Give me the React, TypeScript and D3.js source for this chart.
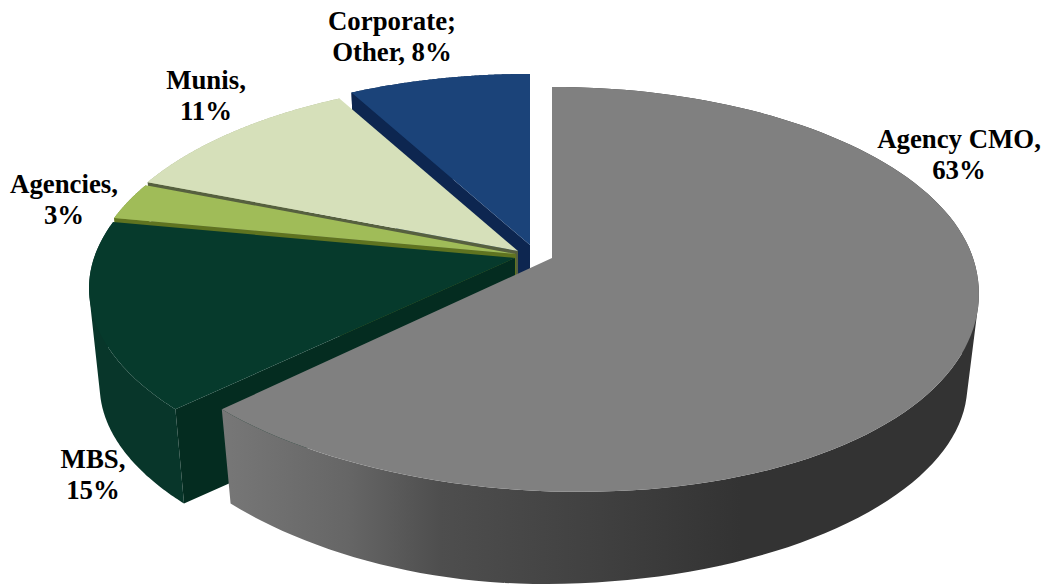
import React from "react";
import * as d3 from "d3";

const WIDTH = 1044;
const HEIGHT = 586;

// Portfolio shares, clockwise from twelve o'clock.
const categories = ["Agency CMO", "MBS", "Agencies", "Munis", "Corporate; Other"];
const shares = [63, 15, 3, 11, 8];

// Colours per slice: top surface, rim, cut face.
const topColors = ["#808080", "#063a2c", "#a0bc58", "#d6e0ba", "#1b4379"];
const rimColors = ["url(#rimShade)", "#08362a", "#7d9440", "#a9b48c", "#12305a"];
const cutColors = ["#555555", "#042c20", "#5f7320", "#56603f", "#0d2650"];

// Centre of each slice on screen, which carries its explosion.
const centerX = [552, 515, 516, 518, 530];
const centerY = [258, 258, 254, 251, 245];
// Sideways drift of the near edge of each slice, on the top face and on the lower rim.
const nearLean = [28, 8, 0, 0, 0];
const rimNearLean = [-8, 8, 0, 0, 0];
const rimLeftLean = [50, 0, 0, 0, 0];

// Label text lines with anchor points.
const labelLines = [
  ["Agency CMO,", "63%"],
  ["MBS,", "15%"],
  ["Agencies,", "3%"],
  ["Munis,", "11%"],
  ["Corporate;", "Other, 8%"],
];
const labelX = [959, 93, 64, 206, 392];
const labelY = [148, 468, 193, 89, 30];
const LINE_GAP = 31;

// Camera: perspective strength, disc half-axes, and extrusion of the lower rim.
const PERSPECTIVE = 0.155;
const AXIS_X = 421;
const AXIS_Y = 197.6;
const BOTTOM_SCALE = 0.975;
const DROP = 98;

type Pt = [number, number];

const discPoint = (i: number, angle: number, r: number): Pt => {
  const X = r * Math.sin(angle);
  const Z = r * Math.cos(angle);
  const w = 1 + PERSPECTIVE * Z;
  return [centerX[i] + (AXIS_X * X) / w, centerY[i] - (AXIS_Y * Z) / w];
};

const topPoint = (i: number, angle: number, r = 1): Pt => {
  const [x, y] = discPoint(i, angle, r);
  const Z = r * Math.cos(angle);
  return [x + (Z < 0 ? nearLean[i] * Z * Z : 0), y];
};

const lowerPoint = (i: number, angle: number, r = 1): Pt => {
  const [x, y] = discPoint(i, angle, r);
  const Z = r * Math.cos(angle);
  const side = Math.max(-r * Math.sin(angle), 0);
  const lean = Z < 0 ? Z * Z * (rimNearLean[i] + rimLeftLean[i] * side) : 0;
  return [
    centerX[i] + (x - centerX[i]) * BOTTOM_SCALE + lean,
    centerY[i] + (y - centerY[i]) * BOTTOM_SCALE + DROP,
  ];
};

const line = d3.line<Pt>().x((d) => d[0]).y((d) => d[1]);
const pie = d3.pie<number>().sort(null).value((d) => d);

// Quads share one winding so overlaps at the fold of the rim stay filled.
const quadPath = (quad: Pt[]) =>
  `${line(d3.polygonArea(quad) < 0 ? quad.slice().reverse() : quad)}Z`;

export default function App() {
  const arcs = pie(shares);
  // Far slices first so nearer ones overlap them.
  const order = d3.range(arcs.length).reverse();

  return (
    <svg
      width={WIDTH}
      height={HEIGHT}
      viewBox={`0 0 ${WIDTH} ${HEIGHT}`}
      style={{ position: "absolute", left: 0, top: 0, background: "#fff" }}
    >
      <defs>
        <linearGradient id="rimShade" gradientUnits="userSpaceOnUse" x1={224} x2={740} y1={0} y2={0}>
          <stop offset="0" stopColor="#777777" />
          <stop offset="0.24" stopColor="#666666" />
          <stop offset="0.42" stopColor="#4e4e4e" />
          <stop offset="0.73" stopColor="#404040" />
          <stop offset="1" stopColor="#333333" />
        </linearGradient>
      </defs>

      {order.map((i) => {
        const { startAngle, endAngle } = arcs[i];
        const steps = d3.range(121).map((k) => startAngle + ((endAngle - startAngle) * k) / 120);
        const upper = steps.map((a) => topPoint(i, a));
        const lower = steps.map((a) => lowerPoint(i, a));
        const apex = topPoint(i, 0, 0);
        const apexLow = lowerPoint(i, 0, 0);
        // The rim is a run of quads, so its silhouette stays straight at the sides.
        const rim = d3
          .range(120)
          .map((k) => quadPath([upper[k], upper[k + 1], lower[k + 1], lower[k]]))
          .join("");
        const cutStart: Pt[] = [apex, upper[0], lower[0], apexLow];
        return (
          <g key={categories[i]}>
            <path d={rim} fill={rimColors[i]} />
            <path d={`${line(cutStart)}Z`} fill={cutColors[i]} />
            <path d={`${line([apex, ...upper])}Z`} fill={topColors[i]} />
          </g>
        );
      })}

      {labelLines.map((lines, i) => (
        <text
          key={categories[i]}
          x={labelX[i]}
          y={labelY[i]}
          textAnchor="middle"
          fontFamily="'Liberation Serif', serif"
          fontWeight="bold"
          fontSize={26.8}
          fill="#000"
        >
          {lines.map((t, j) => (
            <tspan key={t} x={labelX[i]} dy={j === 0 ? 0 : LINE_GAP}>
              {t}
            </tspan>
          ))}
        </text>
      ))}
    </svg>
  );
}
